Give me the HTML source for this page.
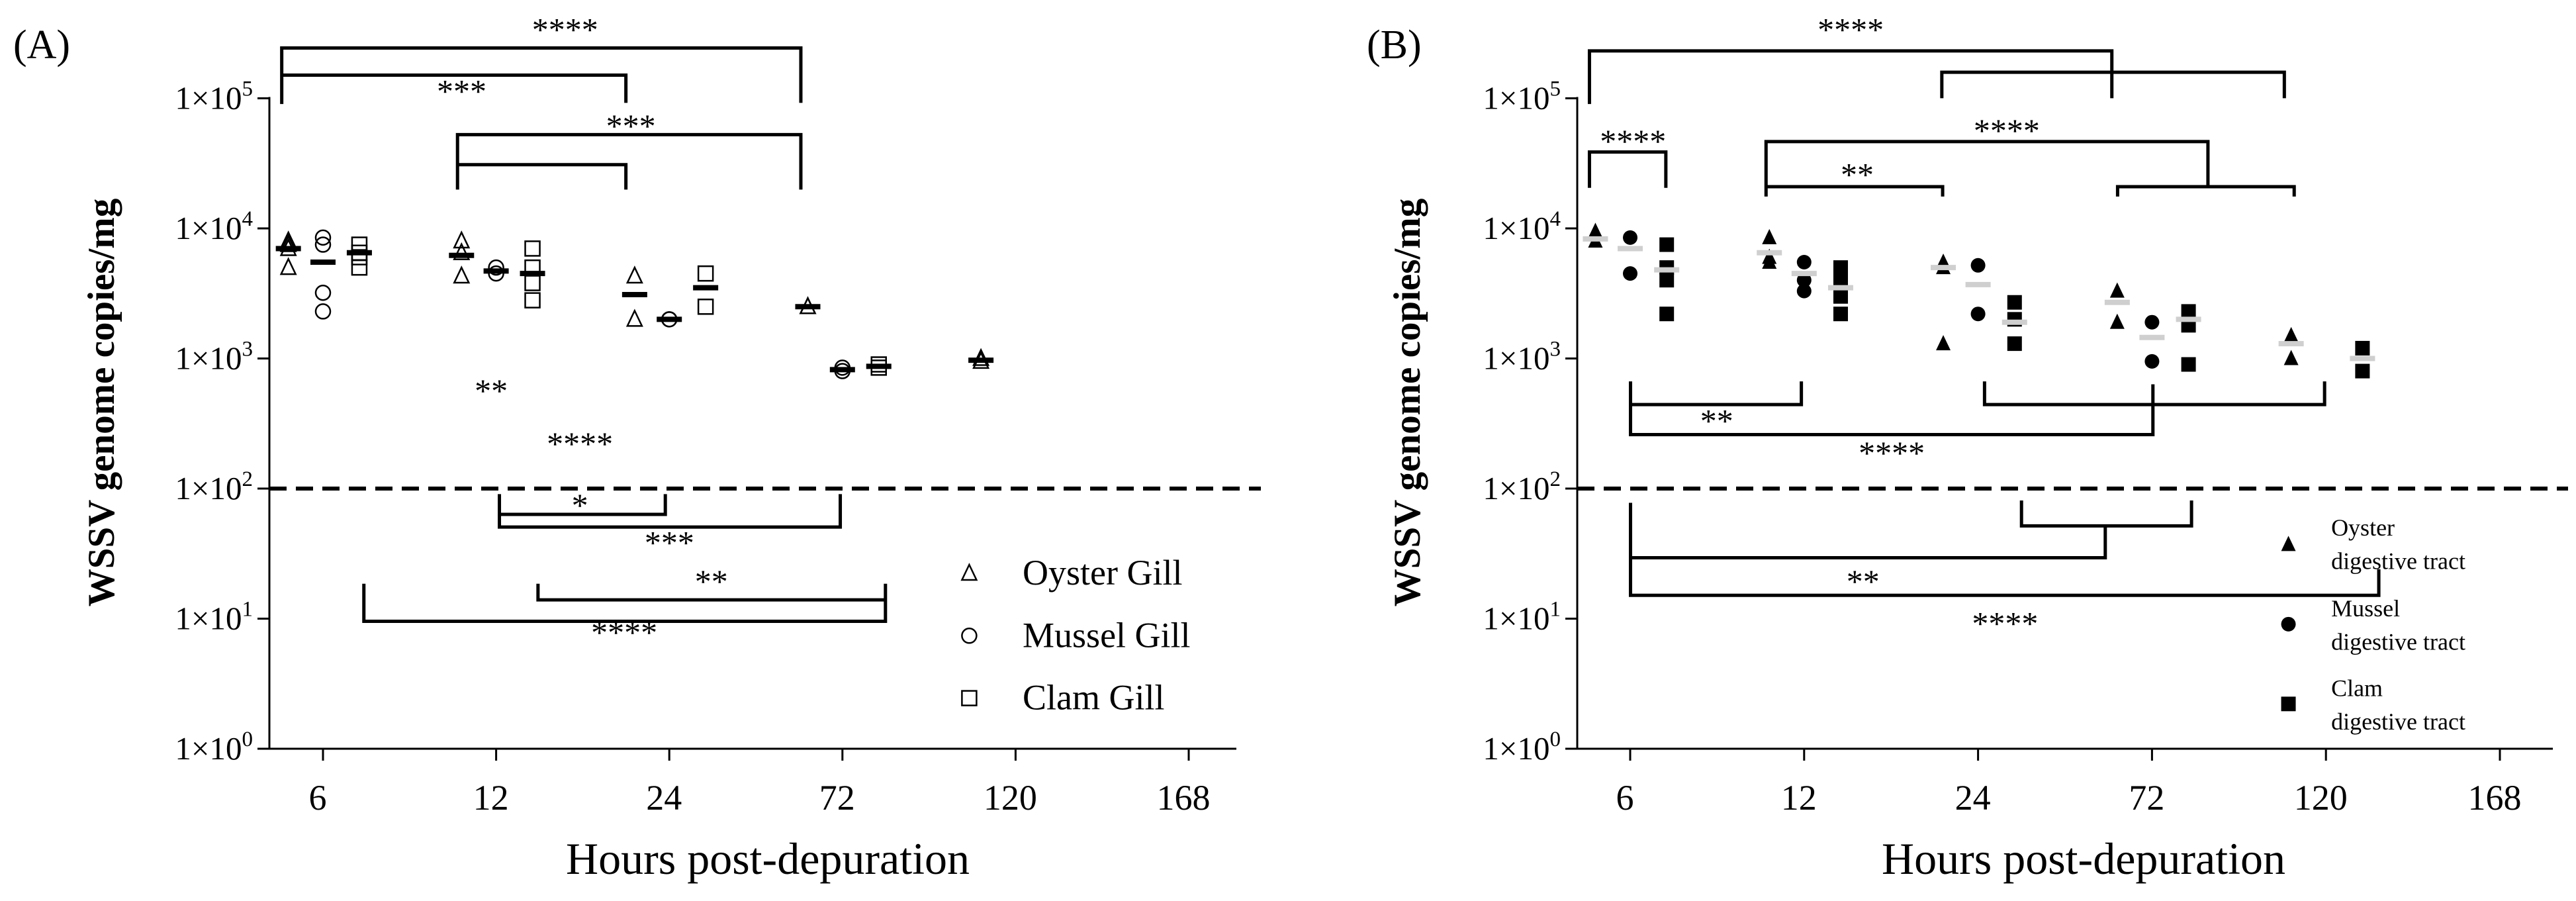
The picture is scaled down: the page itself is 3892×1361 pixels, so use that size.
<!DOCTYPE html>
<html><head><meta charset="utf-8"><style>
html,body{margin:0;padding:0;background:#fff;}
svg{display:block;font-family:"Liberation Serif",serif;}
</style></head><body>
<svg id="c" width="3892" height="1361" viewBox="0 0 3892 1361" xmlns="http://www.w3.org/2000/svg"></svg>
<script>
const categories = ["6","12","24","72","120","168"];
const yTickExps = [0,1,2,3,4,5];
const species = ["Oyster","Mussel","Clam"];
// Panel A (gill) replicate values per time point per species
const gillOyster = [[8000,7000,5000,7500],[8000,6500,4300],[4300,2000],[2500,2500],[950,1000],[]];
const gillMussel = [[8500,7500,3200,2300],[5000,4500],[2000,2000],[850,800],[],[]];
const gillClam = [[7500,6500,5000,6000],[7000,5000,3800,2800],[4500,2500],[900,850],[],[]];
const gillOysterMean = [7000,6200,3100,2500,970,null];
const gillMusselMean = [5500,4700,2000,820,null,null];
const gillClamMean = [6500,4500,3500,870,null,null];
// Panel B (digestive tract)
const dtOyster = [[9500,8000],[8500,6000,5500],[5500,5000,1300],[3300,1900],[1500,1000],[]];
const dtMussel = [[8500,4500],[5500,4000,3300],[5200,2200],[1900,950],[],[]];
const dtClam = [[7500,5000,4000,2200],[5000,4000,3000,2200],[2700,2000,1300],[2300,1800,900],[1200,800],[]];
const dtOysterMean = [8300,6500,5000,2700,1300,null];
const dtMusselMean = [7000,4500,3700,1450,null,null];
const dtClamMean = [4800,3500,1900,2000,1000,null];
const limitValue = 100;

const NS="http://www.w3.org/2000/svg";
const svg=document.getElementById('c');
function mk(tag,attrs,parent){const e=document.createElementNS(NS,tag);for(const k in attrs)e.setAttribute(k,attrs[k]);(parent||svg).appendChild(e);return e;}

function panel(cfg){
  const g=mk('g',{});
  
  
  const y0=1131, dec=196.5;
  const yS=v=>y0-Math.log10(v)*dec;
  const xS=i=>cfg.x6+i*cfg.sp;
  const dx=[-0.2,0,0.21];
  const zx=d=>cfg.ox+cfg.kx*d, zy=d=>0.873*d;
  const ya=mk('line',{x1:cfg.ax,y1:yS(1e5)-2,x2:cfg.ax,y2:y0,stroke:'#000','stroke-width':3},g);
  
  
  const xa=mk('line',{x1:cfg.ax,y1:y0,x2:cfg.xend,y2:y0,stroke:'#000','stroke-width':3},g);
  
  
  yTickExps.forEach(e=>{
    const y=yS(Math.pow(10,e));
    mk('line',{x1:cfg.ax-18,y1:y,x2:cfg.ax,y2:y,stroke:'#000','stroke-width':3},g);
    const t=mk('text',{x:cfg.ax-25,y:y+16,'text-anchor':'end','font-size':49},g);
    
    
    t.innerHTML='1×10<tspan dy="-20" font-size="33">'+e+'</tspan>';
  });
  categories.forEach((c,i)=>{
    const x=xS(i);
    mk('line',{x1:x,y1:y0,x2:x,y2:y0+18,stroke:'#000','stroke-width':3},g);
    const t=mk('text',{x:x-8,y:y0+92,'text-anchor':'middle','font-size':54},g);
    
    
    t.textContent=c;
  });
  const xt=mk('text',{x:cfg.xtx,y:1320,'text-anchor':'middle','font-size':68},g);
  
  
  xt.textContent='Hours post-depuration';
  const yt=mk('text',{x:0,y:0,'text-anchor':'middle','font-size':57,'font-weight':'bold',transform:`translate(${cfg.ytx},608) rotate(-90)`},g);
  
  
  yt.textContent='WSSV genome copies/mg';
  const pl=mk('text',{x:cfg.plx,y:88,'font-size':62},g);
  
  
  pl.textContent=cfg.label;
  const dl=mk('line',{x1:cfg.ax,y1:yS(limitValue),x2:cfg.dashEnd,y2:yS(limitValue),stroke:'#000','stroke-width':6,'stroke-dasharray':'26 14'},g);
  
  
  function marker(s,x,y,par){
    const fill=cfg.filled?'#000':'none', sw=cfg.filled?0:2.5, r=11;
    let e;
    if(s===0) e=mk('polygon',{points:`${x},${y-r-2} ${x-r},${y+r-1} ${x+r},${y+r-1}`,fill,stroke:'#000','stroke-width':sw},par);
    else if(s===1) e=mk('circle',{cx:x,cy:y,r:r,fill,stroke:'#000','stroke-width':sw},par);
    else e=mk('rect',{x:x-r,y:y-r,width:2*r,height:2*r,fill,stroke:'#000','stroke-width':sw},par);
    return e;
  }
  cfg.series.forEach((ser,s)=>{
    ser.vals.forEach((arr,i)=>{
      const x=xS(i)+dx[s]*cfg.sp;
      arr.forEach(v=>{
        const m=marker(s,x,yS(v),g);
        
        
      });
      const mv=ser.mean[i];
      if(mv){
        const ml=mk('line',{x1:x-19,y1:yS(mv),x2:x+19,y2:yS(mv),stroke:cfg.meanColor,'stroke-width':8},g);
        
        
      }
    });
  });
  cfg.brackets.forEach(b=>{
    const p=mk('polyline',{points:b.map(q=>zx(q[0])+','+zy(q[1])).join(' '),fill:'none',stroke:'#000','stroke-width':5},g);
    
    
  });
  cfg.stars.forEach(s=>{
    const t=mk('text',{x:zx(s[0]),y:zy(s[1])+22,'text-anchor':'middle','font-size':50},g);
    
    
    t.textContent=s[2];
  });
  cfg.legend.forEach((L,s)=>{
    const lg=mk('g',{},g);
    
    
    marker(s,zx(L[0]),zy(L[1]),lg);
    L[2].forEach(line=>{
      const t=mk('text',{x:zx(line[0]),y:zy(line[1])+cfg.legFont*0.35,'font-size':cfg.legFont},lg);
      t.textContent=line[2];
    });
  });
}

panel({name:'panel-a-gill',label:'(A)',plx:20,ox:0,kx:1.241,ax:407,x6:488,sp:261.6,xend:1868,dashEnd:1905,ytx:172,xtx:1160,filled:false,meanColor:'#000',
  series:[{vals:gillOyster,mean:gillOysterMean},{vals:gillMussel,mean:gillMusselMean},{vals:gillClam,mean:gillClamMean}],
  brackets:[[[343,180],[343,83],[975,83],[975,178]],[[343,130],[762,130],[762,178]],[[557,328],[557,233],[975,233],[975,328]],[[557,285],[762,285],[762,328]],
    [[608,855],[608,890],[810,890],[810,855]],[[608,890],[608,912],[1023,912],[1023,855]],[[655,1010],[655,1038],[1078,1038]],[[443,1010],[443,1075],[1078,1075],[1078,1010]]],
  stars:[[688,45,'****'],[562,152,'***'],[768,212,'***'],[598,670,'**'],[706,762,'****'],[706,868,'*'],[815,933,'***'],[866,1000,'**'],[760,1088,'****']],
  legFont:54,
  legend:[[1180,992,[[1245,990,'Oyster Gill']]],[1180,1100,[[1245,1098,'Mussel Gill']]],[1180,1208,[[1245,1206,'Clam Gill']]]]
});
panel({name:'panel-b-digestive-tract',label:'(B)',plx:2065,ox:1946,kx:1.241,ax:2383,x6:2463,sp:262.8,xend:3857,dashEnd:3880,ytx:2145,xtx:3148,filled:true,meanColor:'#cfcfcf',
  series:[{vals:dtOyster,mean:dtOysterMean},{vals:dtMussel,mean:dtMusselMean},{vals:dtClam,mean:dtClamMean}],
  brackets:[[[367,180],[367,88],[1003,88],[1003,170]],[[796,170],[796,125],[1213,125],[1213,170]],[[367,325],[367,263],[460,263],[460,325]],
    [[582,340],[582,245],[1120,245],[1120,323]],[[582,323],[797,323],[797,340]],[[1010,340],[1010,323],[1225,323],[1225,340]],
    [[417,660],[417,700],[625,700],[625,660]],[[417,700],[417,752],[1053,752],[1053,665]],[[848,660],[848,700],[1262,700],[1262,660]],
    [[893,866],[893,910],[1100,910],[1100,866]],[[417,870],[417,965],[995,965],[995,910]],[[417,965],[417,1030],[1328,1030],[1328,985]]],
  stars:[[685,45,'****'],[420,238,'****'],[875,220,'****'],[693,296,'**'],[522,722,'**'],[735,778,'****'],[700,1000,'**'],[873,1073,'****']],
  legFont:36,
  legend:[[1218,942,[[1270,912,'Oyster'],[1270,970,'digestive tract']]],[1218,1080,[[1270,1052,'Mussel'],[1270,1110,'digestive tract']]],[1218,1218,[[1270,1190,'Clam'],[1270,1248,'digestive tract']]]]
});
</script>
</body></html>
